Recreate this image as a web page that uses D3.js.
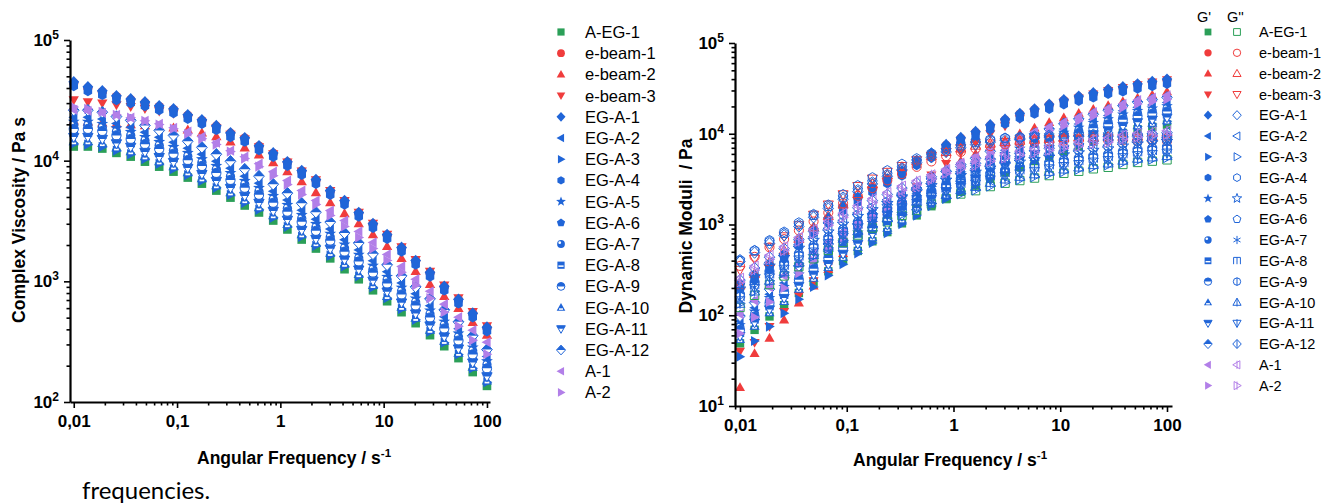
<!DOCTYPE html>
<html>
<head>
<meta charset="utf-8">
<script src="https://cdn.jsdelivr.net/npm/d3@7/dist/d3.min.js"></script>
<style>
  body { margin: 0; background: #fff; }
  svg text { font-family: 'Liberation Sans', Arial, sans-serif; fill: #000; }
  .axis-title { font-size: 17.5px; font-weight: bold; }
  .legend-text { font-size: 16.5px; }
  .legend-text-small { font-size: 14.5px; }
  .caption { font-family: Lato, 'Open Sans', sans-serif; font-size: 24px; }
</style>
</head>
<body>
<svg id="figure" width="1332" height="504"></svg>
<script>
// angular frequency / s-1 (same sweep for every sample)
const frequencies = [0.01, 0.0137, 0.0189, 0.0259, 0.0356, 0.0489, 0.0672, 0.0924, 0.127, 0.174,
  0.240, 0.329, 0.452, 0.621, 0.853, 1.17, 1.61, 2.21, 3.04, 4.18,
  5.74, 7.88, 10.8, 14.9, 20.4, 28.1, 38.6, 53.0, 72.8, 100];

const sample_names = ['A-EG-1', 'e-beam-1', 'e-beam-2', 'e-beam-3', 'EG-A-1', 'EG-A-2', 'EG-A-3',
  'EG-A-4', 'EG-A-5', 'EG-A-6', 'EG-A-7', 'EG-A-8', 'EG-A-9', 'EG-A-10', 'EG-A-11', 'EG-A-12',
  'A-1', 'A-2'];

// complex viscosity / Pa s
const eta_aeg1 = [13100,13100,12600,11600,10800,9810,8920,8110,7240,6450,5650,4940,4250,3720,3190,2690,2220,1870,1550,1260,1040,843,684,555,450,358,290,231,177,136];
const eta_ebeam1 = [44000,40000,37200,34000,32000,30200,28100,26500,23700,21500,19300,16900,15400,13200,11500,9720,8200,6900,5600,4630,3690,2990,2420,1890,1480,1180,902,704,540,413];
const eta_ebeam2 = [21400,21000,20600,20200,19900,19500,19100,18700,18000,17000,15800,14300,12800,11200,9630,8100,6700,5440,4500,3650,3010,2440,1950,1550,1210,945,750,598,458,358];
const eta_ebeam3 = [31900,30700,30000,29000,28000,27000,25800,24700,22600,20700,18700,16500,15100,13000,11400,9700,8200,6930,5640,4670,3730,3020,2450,1930,1510,1210,930,728,560,428];
const eta_ega1 = [45000,40900,37900,34500,32500,30700,28500,26900,24000,21800,19500,17000,15500,13300,11600,9800,8270,6970,5650,4670,3720,3010,2440,1910,1490,1190,910,710,545,417];
const eta_ega2 = [22900,22900,22100,20300,18900,17200,15600,14200,12700,11300,9890,8650,7440,6510,5580,4710,3890,3270,2710,2210,1820,1480,1200,971,788,627,508,404,310,238];
const eta_ega3 = [13800,13600,13000,12100,11300,10300,9400,8500,7600,6800,5950,5200,4480,3920,3360,2830,2340,1970,1630,1330,1100,890,725,590,480,382,310,248,190,146];
const eta_ega4 = [41400,37600,34900,31700,29900,28200,26200,24700,22100,20100,17900,15600,14300,12200,10700,9020,7610,6410,5200,4300,3420,2770,2240,1760,1370,1090,837,653,501,384];
const eta_ega5 = [21000,21000,20200,18600,17300,15700,14300,13000,11600,10300,9040,7900,6800,5950,5100,4300,3550,2990,2480,2020,1660,1350,1090,888,720,573,464,370,283,218];
const eta_ega6 = [43600,39700,36800,33500,31500,29800,27600,26100,23300,21100,18900,16500,15000,12900,11300,9510,8020,6760,5480,4530,3610,2920,2370,1850,1450,1150,883,689,529,404];
const eta_ega7 = [19700,19700,18900,17400,16200,14700,13400,12200,10900,9680,8480,7410,6380,5580,4790,4040,3330,2810,2330,1890,1560,1260,1030,833,675,537,435,347,266,204];
const eta_ega8 = [17000,17000,16400,15100,14000,12800,11600,10500,9410,8390,7350,6420,5530,4840,4150,3500,2890,2430,2020,1640,1350,1100,889,722,585,465,377,300,230,177];
const eta_ega9 = [18300,18300,17600,16200,15100,13700,12500,11400,10100,9030,7910,6920,5950,5210,4470,3770,3110,2620,2170,1760,1460,1180,958,777,630,501,406,323,248,190];
const eta_ega10 = [14400,14400,13900,12800,11900,10800,9810,8920,7960,7100,6220,5430,4680,4090,3510,2960,2440,2060,1710,1390,1140,927,752,611,495,394,319,254,195,150];
const eta_ega11 = [15700,15700,15100,13900,13000,11800,10700,9730,8690,7740,6780,5930,5100,4460,3830,3230,2660,2240,1860,1510,1250,1010,821,666,540,430,348,277,212,163];
const eta_ega12 = [26200,26200,25200,23200,21600,19600,17800,16200,14500,12900,11300,9880,8500,7440,6380,5380,4440,3740,3100,2520,2080,1690,1370,1110,900,716,580,462,354,272];
const eta_a1 = [26400,25900,24900,24000,22700,21400,20200,18700,17400,15800,14100,12100,10800,9450,8110,6840,5650,4670,3860,3190,2590,2100,1670,1330,1040,827,646,504,394,313];
const eta_a2 = [27900,26900,25400,24000,22700,21400,19900,18400,16700,15200,13600,11900,10400,8920,7510,6340,5240,4330,3510,2850,2310,1870,1490,1190,927,724,555,425,325,249];

// storage modulus G' / Pa
const gp_aeg1 = [49,69,97,129,176,233,305,396,511,653,825,1030,1260,1590,1930,2290,2680,3200,3750,4290,5000,5670,6440,7290,8220,9090,10200,11200,11900,12600];
const gp_ebeam1 = [220,270,351,464,649,885,1170,1570,1960,2520,3140,3830,5000,6040,7480,8920,10400,12300,14200,16500,18400,20800,23300,25500,27700,30400,32300,34800,37000,39200];
const gp_ebeam2 = [16,38,56,89,137,210,320,480,700,1000,1400,1900,2500,3200,4100,5000,6000,7200,8500,10000,11600,13300,15000,16800,18600,20500,22600,24700,26800,29000];
const gp_ebeam3 = [40,50,75,110,165,240,350,500,720,1000,1400,1900,2600,3500,4700,6200,8000,10000,12200,14600,17000,19600,22300,24800,27300,30000,32200,34700,37000,39200];
const gp_ega1 = [224,275,358,473,662,903,1190,1600,2000,2570,3200,3910,5100,6160,7630,9100,10600,12600,14500,16800,18800,21200,23800,26000,28300,31000,33000,35500,37800,40000];
const gp_ega2 = [86,121,170,226,308,408,534,693,894,1140,1440,1800,2210,2780,3380,4010,4690,5600,6560,7510,8750,9920,11300,12800,14400,15900,17900,19600,20800,22100];
const gp_ega3 = [35,52,75,105,150,205,275,365,480,625,800,1010,1250,1590,1950,2330,2750,3300,3900,4500,5250,6000,6850,7750,8750,9700,10900,12000,12800,13700];
const gp_ega4 = [197,242,315,416,583,795,1050,1410,1760,2260,2820,3440,4490,5420,6710,8010,9330,11100,12800,14800,16500,18700,20900,22900,24900,27300,29000,31200,33300,35200];
const gp_ega5 = [78,110,155,206,282,373,488,634,818,1040,1320,1650,2020,2540,3090,3660,4290,5120,6000,6860,8000,9070,10300,11700,13200,14500,16300,17900,19000,20200];
const gp_ega6 = [213,261,340,449,629,858,1130,1520,1900,2440,3040,3710,4850,5850,7250,8650,10100,12000,13800,16000,17900,20100,22600,24700,26900,29500,31400,33700,35900,38000];
const gp_ega7 = [74,104,146,194,264,350,458,594,767,980,1240,1550,1890,2390,2900,3440,4020,4800,5630,6440,7500,8510,9660,10900,12300,13600,15300,16800,17900,18900];
const gp_ega8 = [64,90,126,168,229,303,397,515,664,849,1070,1340,1640,2070,2510,2980,3480,4160,4880,5580,6500,7370,8370,9480,10700,11800,13300,14600,15500,16400];
const gp_ega9 = [69,97,136,181,246,326,427,554,715,914,1160,1440,1760,2230,2700,3210,3750,4480,5250,6010,7000,7940,9020,10200,11500,12700,14300,15700,16700,17600];
const gp_ega10 = [54,76,107,142,194,256,336,436,562,718,908,1130,1390,1750,2120,2520,2950,3520,4130,4720,5500,6240,7080,8020,9040,10000,11200,12300,13100,13900];
const gp_ega11 = [59,83,116,155,211,280,366,475,613,784,990,1240,1510,1910,2320,2750,3220,3840,4500,5150,6000,6800,7730,8750,9860,10900,12200,13400,14300,15100];
const gp_ega12 = [98,138,194,258,352,466,610,792,1020,1310,1650,2060,2520,3180,3860,4580,5360,6400,7500,8580,10000,11300,12900,14600,16400,18200,20400,22400,23800,25200];
const gp_a1 = [103,145,204,271,370,489,641,832,1070,1370,1730,2160,2650,3340,4050,4810,5630,6720,7880,9010,10500,11900,13500,15300,17300,19100,21400,23500,25000,26500];
const gp_a2 = [63,95,140,200,290,400,540,710,930,1200,1530,1930,2390,3020,3670,4350,5090,6080,7130,8150,9500,10800,12200,13900,15600,17300,19400,21300,22600,23900];

// loss modulus G'' / Pa
const gpp_aeg1 = [122,166,218,271,343,419,518,634,766,915,1070,1260,1440,1680,1930,2170,2360,2620,2850,3050,3250,3460,3670,3860,4110,4270,4590,4830,4990,5160];
const gpp_ebeam1 = [350,440,560,690,860,1080,1350,1710,2070,2520,3060,3600,4320,4950,5670,6300,6840,7290,7650,7920,8100,8280,8370,8460,8460,8460,8460,8370,8370,8280];
const gpp_ebeam2 = [213,286,385,517,696,930,1240,1660,2170,2790,3520,4300,5000,5700,6300,6900,7400,7800,8100,8400,8600,8800,9000,9100,9200,9300,9300,9400,9400,9400];
const gpp_ebeam3 = [316,419,560,740,980,1280,1660,2150,2650,3200,3800,4400,5100,5700,6300,6900,7400,7800,8100,8400,8600,8700,8800,8900,8900,8900,8900,8900,8800,8800];
const gpp_ega1 = [390,490,620,760,950,1200,1500,1900,2300,2800,3400,4000,4800,5500,6300,7000,7600,8100,8500,8800,9000,9200,9300,9400,9400,9400,9400,9300,9300,9200];
const gpp_ega2 = [214,291,382,474,600,733,907,1110,1340,1600,1870,2210,2520,2940,3380,3800,4130,4590,4990,5340,5690,6060,6420,6760,7190,7470,8030,8450,8730,9030];
const gpp_ega3 = [135,184,240,298,372,450,552,670,800,950,1100,1290,1470,1700,1940,2180,2400,2650,2900,3130,3370,3600,3830,4060,4300,4550,4800,5050,5250,5450];
const gpp_ega4 = [400,520,670,830,1050,1300,1650,2150,2700,3300,3950,4650,5350,6100,7000,7700,8300,8700,9000,9100,9200,9200,9200,9100,9000,8900,8800,8700,8600,8500];
const gpp_ega5 = [195,266,349,434,549,670,829,1010,1230,1460,1710,2020,2300,2690,3090,3470,3780,4190,4560,4880,5200,5540,5870,6180,6580,6830,7340,7730,7980,8260];
const gpp_ega6 = [410,515,651,798,998,1260,1580,2000,2420,2940,3570,4200,5040,5780,6620,7350,7980,8510,8930,9240,9450,9660,9770,9870,9870,9870,9870,9770,9770,9660];
const gpp_ega7 = [183,249,327,407,515,629,777,951,1150,1370,1610,1890,2160,2520,2900,3260,3540,3930,4280,4580,4880,5190,5510,5790,6170,6410,6890,7250,7490,7740];
const gpp_ega8 = [159,216,283,352,446,545,673,824,996,1190,1390,1640,1870,2180,2510,2820,3070,3410,3710,3970,4230,4500,4770,5020,5340,5550,5970,6280,6490,6710];
const gpp_ega9 = [171,232,305,379,480,587,725,888,1070,1280,1500,1760,2020,2350,2700,3040,3300,3670,3990,4270,4550,4840,5140,5400,5750,5980,6430,6760,6990,7220];
const gpp_ega10 = [134,183,240,298,377,461,570,697,843,1010,1180,1390,1580,1850,2120,2390,2600,2880,3140,3360,3580,3810,4040,4250,4520,4700,5050,5310,5490,5680];
const gpp_ega11 = [146,199,262,325,412,503,622,761,919,1100,1280,1510,1730,2020,2320,2600,2830,3140,3420,3660,3900,4150,4400,4630,4930,5120,5510,5800,5990,6190];
const gpp_ega12 = [244,332,436,542,686,838,1040,1270,1530,1830,2140,2520,2880,3360,3860,4340,4720,5240,5700,6100,6500,6920,7340,7720,8220,8540,9180,9660,9980,10300];
const gpp_a1 = [256,349,458,569,720,880,1090,1330,1610,1920,2250,2650,3020,3530,4050,4560,4960,5500,5990,6410,6830,7270,7710,8110,8630,8970,9640,10100,10500,10800];
const gpp_a2 = [232,315,414,515,652,796,984,1200,1460,1740,2030,2390,2740,3190,3670,4120,4480,4980,5420,5800,6180,6570,6970,7330,7810,8110,8720,9180,9480,9800];

const x_tick_values = [0.01, 0.1, 1, 10, 100];
const x_tick_labels = ['0,01', '0,1', '1', '10', '100'];
const visc_tick_values = [1e2, 1e3, 1e4, 1e5];
const mod_tick_values = [1e1, 1e2, 1e3, 1e4, 1e5];

const eta_series = [eta_aeg1, eta_ebeam1, eta_ebeam2, eta_ebeam3, eta_ega1, eta_ega2, eta_ega3, eta_ega4,
  eta_ega5, eta_ega6, eta_ega7, eta_ega8, eta_ega9, eta_ega10, eta_ega11, eta_ega12, eta_a1, eta_a2];
const gp_series = [gp_aeg1, gp_ebeam1, gp_ebeam2, gp_ebeam3, gp_ega1, gp_ega2, gp_ega3, gp_ega4,
  gp_ega5, gp_ega6, gp_ega7, gp_ega8, gp_ega9, gp_ega10, gp_ega11, gp_ega12, gp_a1, gp_a2];
const gpp_series = [gpp_aeg1, gpp_ebeam1, gpp_ebeam2, gpp_ebeam3, gpp_ega1, gpp_ega2, gpp_ega3, gpp_ega4,
  gpp_ega5, gpp_ega6, gpp_ega7, gpp_ega8, gpp_ega9, gpp_ega10, gpp_ega11, gpp_ega12, gpp_a1, gpp_a2];

const green = '#2b9f58';
const red = '#f03c3c';
const blue = '#2065d8';
const purple = '#b27fe8';

const marker_styles = [
  { color: green, shape: 'square', fill: 'solid', open: 'open' },
  { color: red, shape: 'circle', fill: 'solid', open: 'open' },
  { color: red, shape: 'triUp', fill: 'solid', open: 'open' },
  { color: red, shape: 'triDown', fill: 'solid', open: 'open' },
  { color: blue, shape: 'diamond', fill: 'solid', open: 'open' },
  { color: blue, shape: 'triLeft', fill: 'solid', open: 'open' },
  { color: blue, shape: 'triRight', fill: 'solid', open: 'open' },
  { color: blue, shape: 'hexagon', fill: 'solid', open: 'open' },
  { color: blue, shape: 'star', fill: 'solid', open: 'open' },
  { color: blue, shape: 'pentagon', fill: 'solid', open: 'open' },
  { color: blue, shape: 'circle', fill: 'sphere', open: 'asterisk' },
  { color: blue, shape: 'square', fill: 'band', open: 'bars' },
  { color: blue, shape: 'circle', fill: 'halfTop', open: 'line' },
  { color: blue, shape: 'triUp', fill: 'band', open: 'line' },
  { color: blue, shape: 'triDown', fill: 'halfTop', open: 'line' },
  { color: blue, shape: 'diamond', fill: 'halfTop', open: 'line' },
  { color: purple, shape: 'triLeft', fill: 'solid', open: 'line' },
  { color: purple, shape: 'triRight', fill: 'solid', open: 'line' }
];

const svg = d3.select('#figure');
svg.append('defs')
  .append('clipPath')
  .attr('id', 'clip-top')
  .append('rect')
  .attr('x', -20).attr('y', -20).attr('width', 40).attr('height', 20);

function polygon(pts) {
  return 'M' + pts.map(p => p[0].toFixed(2) + ',' + p[1].toFixed(2)).join('L') + 'Z';
}

function shape_path(shape, r) {
  switch (shape) {
    case 'square':
      return polygon([[-r, -r], [r, -r], [r, r], [-r, r]]);
    case 'circle': {
      const c = r * 1.08;
      return `M${c},0A${c},${c} 0 1,1 ${-c},0A${c},${c} 0 1,1 ${c},0Z`;
    }
    case 'triUp':
      return polygon([[0, -1.25 * r], [1.2 * r, 0.85 * r], [-1.2 * r, 0.85 * r]]);
    case 'triDown':
      return polygon([[0, 1.25 * r], [1.2 * r, -0.85 * r], [-1.2 * r, -0.85 * r]]);
    case 'triLeft':
      return polygon([[-1.25 * r, 0], [0.85 * r, -1.2 * r], [0.85 * r, 1.2 * r]]);
    case 'triRight':
      return polygon([[1.25 * r, 0], [-0.85 * r, -1.2 * r], [-0.85 * r, 1.2 * r]]);
    case 'diamond':
      return polygon([[0, -1.35 * r], [1.25 * r, 0], [0, 1.35 * r], [-1.25 * r, 0]]);
    case 'hexagon':
      return polygon(d3.range(6).map(k => {
        const a = -Math.PI / 2 + k * Math.PI / 3;
        return [1.15 * r * Math.cos(a), 1.15 * r * Math.sin(a)];
      }));
    case 'pentagon':
      return polygon(d3.range(5).map(k => {
        const a = -Math.PI / 2 + k * 2 * Math.PI / 5;
        return [1.2 * r * Math.cos(a), 1.2 * r * Math.sin(a)];
      }));
    case 'star':
      return polygon(d3.range(10).map(k => {
        const a = -Math.PI / 2 + k * Math.PI / 5;
        const rr = k % 2 === 0 ? 1.45 * r : 0.6 * r;
        return [rr * Math.cos(a), rr * Math.sin(a)];
      }));
  }
}

function draw_marker(g, st, r, filled) {
  const d = shape_path(st.shape, r);
  if (filled) {
    if (st.fill === 'halfTop') {
      g.append('path').attr('d', d).attr('fill', '#fff').attr('stroke', st.color).attr('stroke-width', 1);
      g.append('path').attr('d', d).attr('fill', st.color).attr('clip-path', 'url(#clip-top)');
      return;
    }
    g.append('path').attr('d', d).attr('fill', st.color);
    if (st.fill === 'sphere') {
      g.append('circle').attr('cx', -0.35 * r).attr('cy', -0.35 * r).attr('r', 0.38 * r).attr('fill', '#fff');
    } else if (st.fill === 'band') {
      const top = st.shape === 'triUp' ? 0.2 * r : 0.05 * r;
      const half = st.shape === 'triUp' ? 0.55 * r : 0.72 * r;
      g.append('rect').attr('x', -half).attr('y', top).attr('width', 2 * half).attr('height', 0.42 * r).attr('fill', '#fff');
    }
    return;
  }
  const line_attrs = sel => sel.attr('fill', 'none').attr('stroke', st.color).attr('stroke-width', 1);
  if (st.open === 'asterisk') {
    const a = 1.2 * r;
    g.append('path')
      .attr('d', `M0,${-a}V${a}M${-a * 0.87},${-a / 2}L${a * 0.87},${a / 2}M${-a * 0.87},${a / 2}L${a * 0.87},${-a / 2}`)
      .call(line_attrs);
    return;
  }
  if (st.open === 'bars') {
    g.append('path').attr('d', `M${-r},${r}V${-r}H${r}V${r}M0,${-r}V${r}`).call(line_attrs);
    return;
  }
  g.append('path').attr('d', d).call(line_attrs);
  if (st.open === 'line') {
    g.append('path').attr('d', `M0,${-1.2 * r}V${1.2 * r}`).call(line_attrs);
  }
}

function draw_axes(g, x, y) {
  const [x0] = x.range();
  const [y0] = y.range();
  const minor = (scale, majors) => scale.ticks().filter(v => !majors.some(m => Math.abs(v / m - 1) < 1e-6));

  const x_axis = g.append('g').attr('transform', `translate(0,${y0})`);
  x_axis.append('g')
    .call(d3.axisBottom(x).tickValues(minor(x, x_tick_values)).tickSize(3.5).tickSizeOuter(0).tickFormat(''))
    .call(s => s.select('.domain').remove());
  x_axis.append('g')
    .attr('class', 'x-major')
    .call(d3.axisBottom(x).tickValues(x_tick_values).tickSize(6).tickSizeOuter(0).tickPadding(7)
      .tickFormat((d, i) => x_tick_labels[i]));

  const y_ticks = y.domain()[0] === 10 ? mod_tick_values : visc_tick_values;
  const y_axis = g.append('g').attr('transform', `translate(${x0},0)`);
  y_axis.append('g')
    .call(d3.axisLeft(y).tickValues(minor(y, y_ticks)).tickSize(3.5).tickSizeOuter(0).tickFormat(''))
    .call(s => s.select('.domain').remove());
  y_axis.append('g')
    .attr('class', 'y-major')
    .call(d3.axisLeft(y).tickValues(y_ticks).tickSize(6).tickSizeOuter(0).tickPadding(5).tickFormat(() => '10'));

  g.selectAll('.domain').attr('stroke-width', 2.2).attr('stroke', '#000');
  g.selectAll('.tick line').attr('stroke-width', 1.6).attr('stroke', '#000');
  g.selectAll('.x-major .tick text, .y-major .tick text')
    .attr('font-size', 17)
    .attr('font-weight', 'bold')
    .attr('font-family', "'Liberation Sans', Arial, sans-serif")
    .attr('fill', '#000');
  g.selectAll('.y-major .tick text').each(function (d) {
    d3.select(this)
      .append('tspan')
      .attr('dy', -7)
      .attr('font-size', 12)
      .text(Math.round(Math.log10(d)));
  });
}

function draw_title_x(g, x, y) {
  const t = g.append('text').attr('class', 'axis-title').attr('x', x).attr('y', y);
  t.append('tspan').text('Angular Frequency / s');
  t.append('tspan').attr('dy', -7).attr('font-size', 11.5).text('-1');
}

// ---------- complex viscosity ----------
const visc_x = d3.scaleLog().domain([0.0092, 107]).range([70, 490]);
const visc_y = d3.scaleLog().domain([100, 100000]).range([402, 40]);
const visc_g = svg.append('g');

sample_names.forEach((name, s) => {
  visc_g.append('g')
    .selectAll('g')
    .data(eta_series[s])
    .join('g')
    .attr('transform', (d, i) => `translate(${visc_x(frequencies[i])},${visc_y(d)})`)
    .each(function () { draw_marker(d3.select(this), marker_styles[s], 4.3, true); });
});

draw_axes(visc_g, visc_x, visc_y);
draw_title_x(visc_g, 197, 464);
visc_g.append('text')
  .attr('class', 'axis-title')
  .attr('transform', 'translate(25,220) rotate(-90)')
  .attr('text-anchor', 'middle')
  .text('Complex Viscosity / Pa s');

const legend_left = visc_g.append('g');
sample_names.forEach((name, s) => {
  const row = legend_left.append('g').attr('transform', `translate(0,${32 + s * 21.2})`);
  draw_marker(row.append('g').attr('transform', 'translate(561,0)'), marker_styles[s], 3.6, true);
  row.append('text').attr('class', 'legend-text').attr('x', 585).attr('dy', '0.36em').text(name);
});

// ---------- dynamic moduli ----------
const mod_x = d3.scaleLog().domain([0.00898, 111.4]).range([735, 1172]);
const mod_y = d3.scaleLog().domain([10, 100000]).range([406, 43]);
const mod_g = svg.append('g');

sample_names.forEach((name, s) => {
  mod_g.append('g')
    .selectAll('g')
    .data(gp_series[s])
    .join('g')
    .attr('transform', (d, i) => `translate(${mod_x(frequencies[i])},${mod_y(d)})`)
    .each(function () { draw_marker(d3.select(this), marker_styles[s], 4.2, true); });
});
sample_names.forEach((name, s) => {
  mod_g.append('g')
    .selectAll('g')
    .data(gpp_series[s])
    .join('g')
    .attr('transform', (d, i) => `translate(${mod_x(frequencies[i])},${mod_y(d)})`)
    .each(function () { draw_marker(d3.select(this), marker_styles[s], 4.2, false); });
});

draw_axes(mod_g, mod_x, mod_y);
draw_title_x(mod_g, 853, 466);
mod_g.append('text')
  .attr('class', 'axis-title')
  .attr('transform', 'translate(692,226) rotate(-90)')
  .attr('text-anchor', 'middle')
  .style('white-space', 'pre')
  .text('Dynamic Moduli  / Pa');

const legend_right = mod_g.append('g');
legend_right.append('text').attr('class', 'legend-text-small').attr('x', 1197).attr('y', 22).text("G'");
legend_right.append('text').attr('class', 'legend-text-small').attr('x', 1227).attr('y', 22).text("G''");
sample_names.forEach((name, s) => {
  const row = legend_right.append('g').attr('transform', `translate(0,${32 + s * 20.8})`);
  draw_marker(row.append('g').attr('transform', 'translate(1208,0)'), marker_styles[s], 3.4, true);
  draw_marker(row.append('g').attr('transform', 'translate(1237,0)'), marker_styles[s], 3.4, false);
  row.append('text').attr('class', 'legend-text-small').attr('x', 1259).attr('dy', '0.36em').text(name);
});

svg.append('text').attr('class', 'caption').attr('x', 82).attr('y', 499).text('frequencies.');
</script>
</body>
</html>
